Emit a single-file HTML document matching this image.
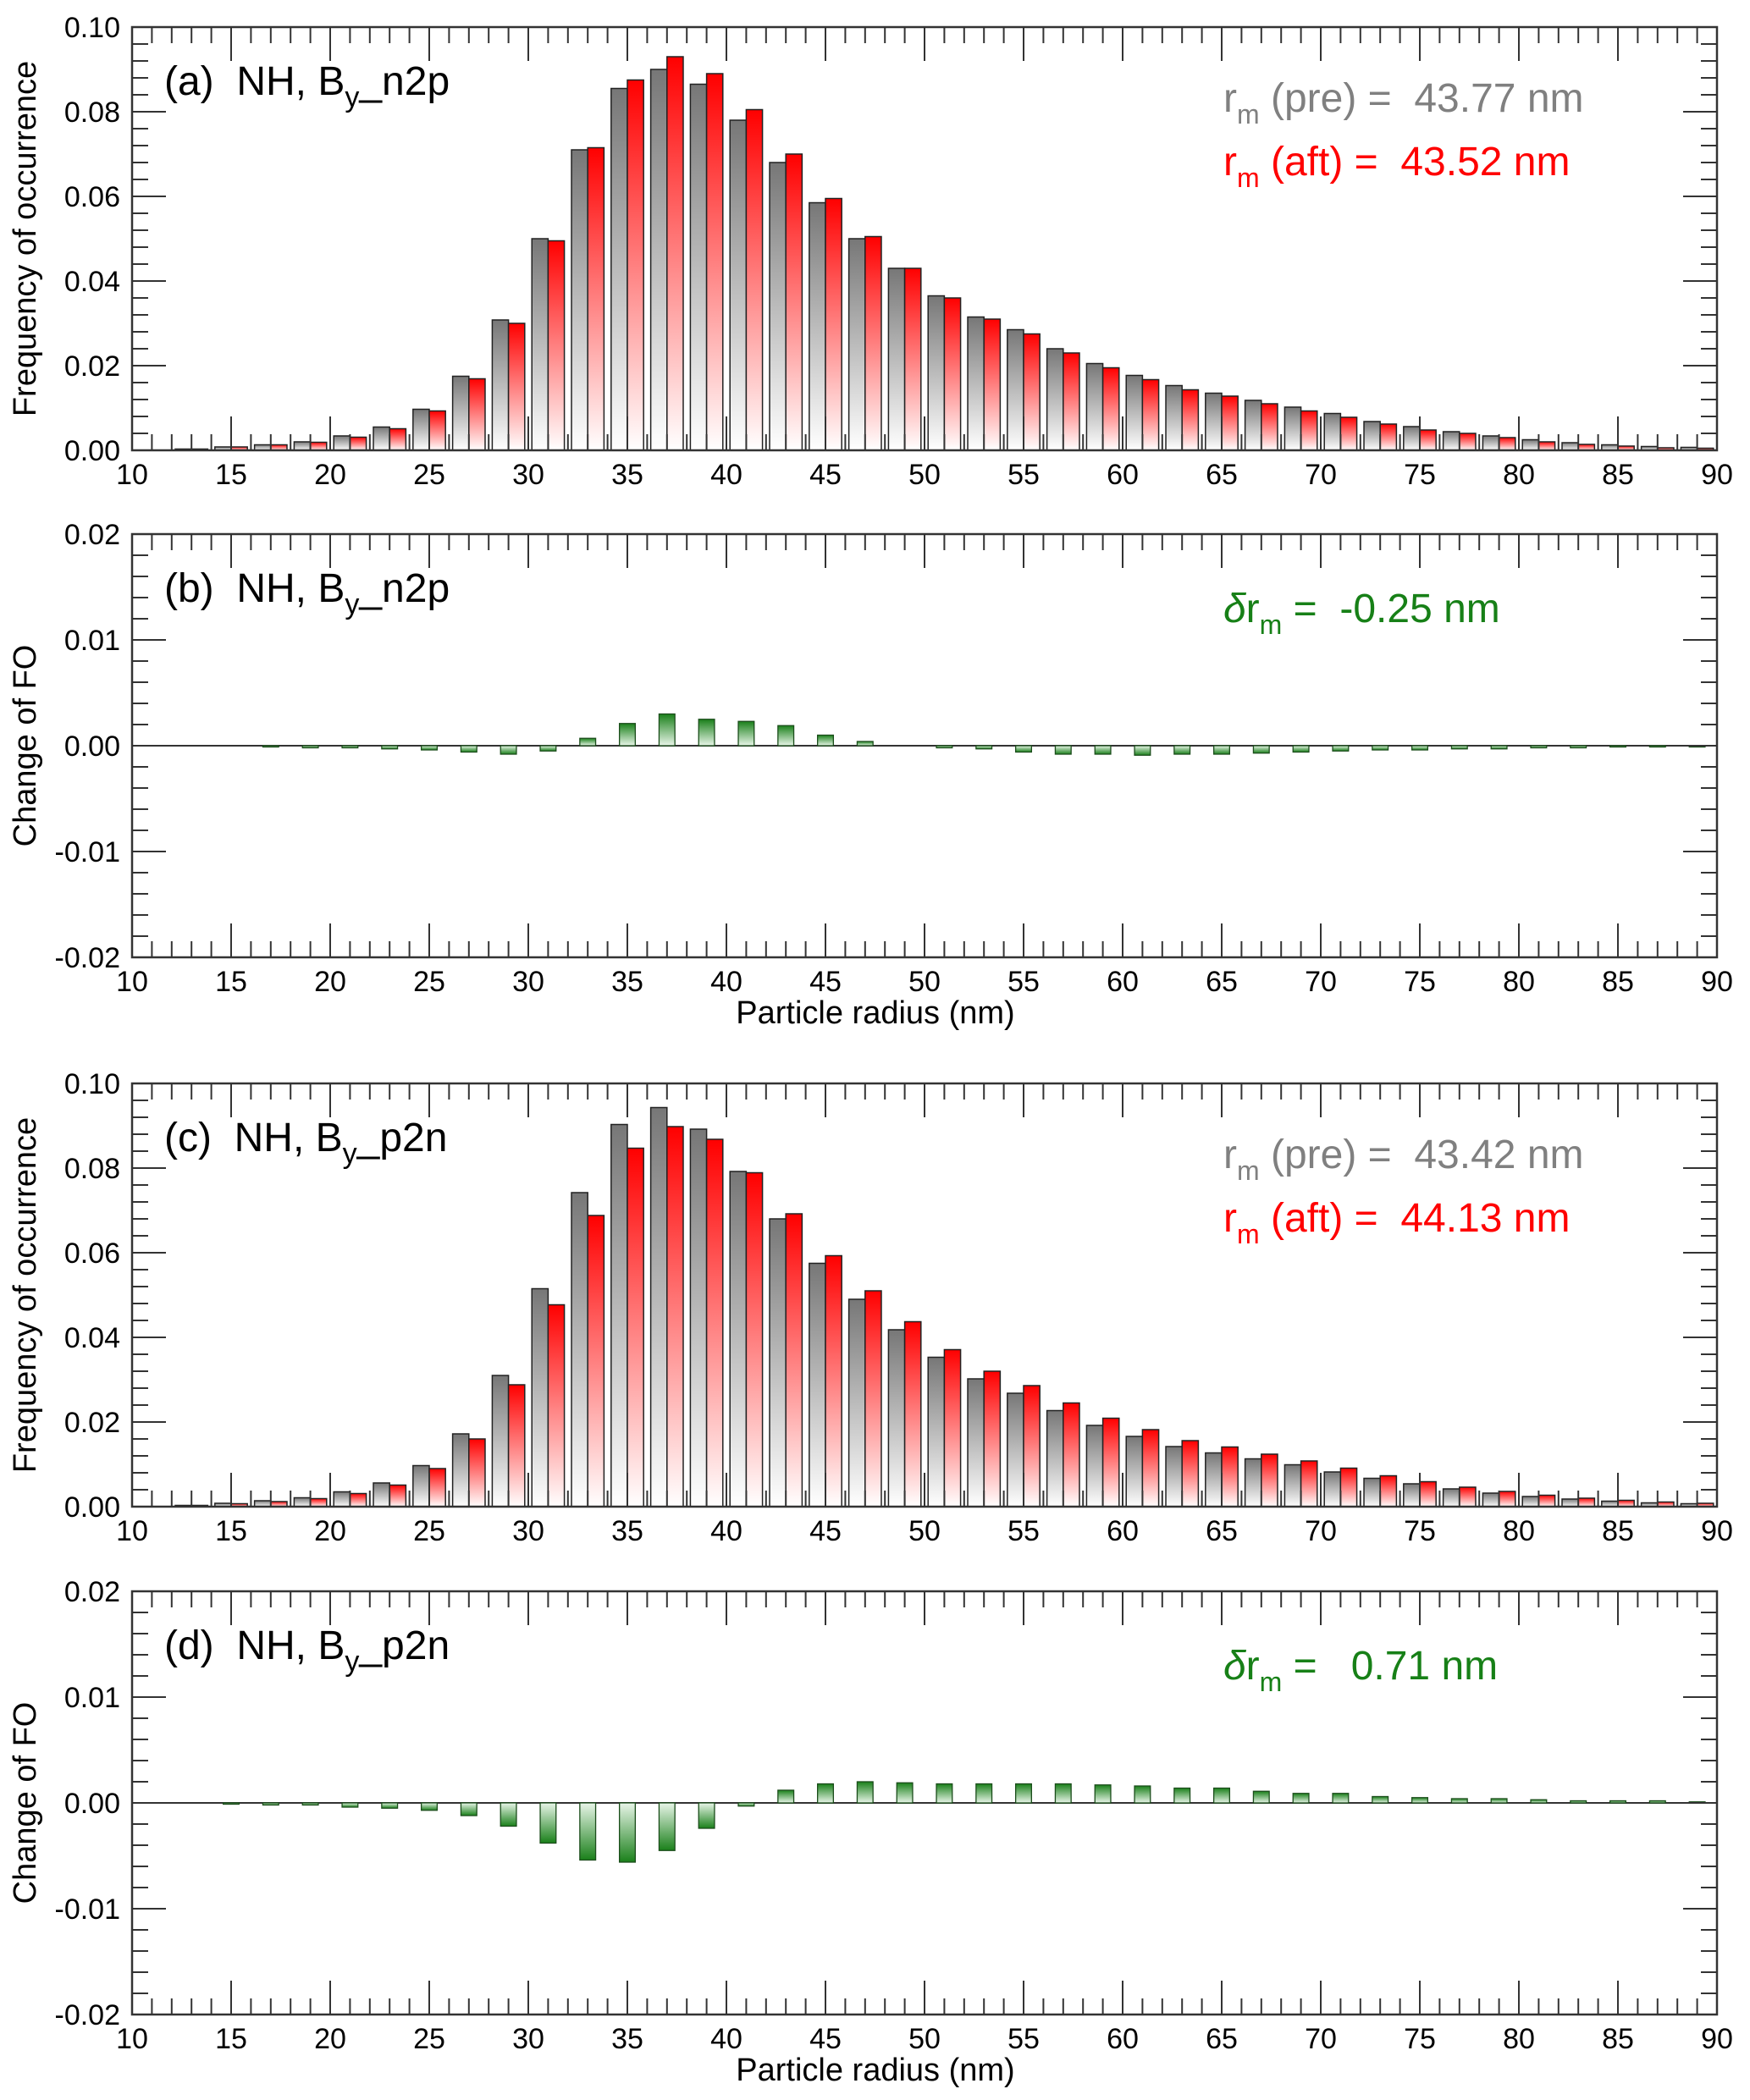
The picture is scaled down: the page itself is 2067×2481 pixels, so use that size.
<!DOCTYPE html>
<html><head><meta charset="utf-8"><style>
html,body{margin:0;padding:0;background:#fff}
svg{display:block;font-family:"Liberation Sans","DejaVu Sans",sans-serif}
</style></head><body>
<svg id="fig" width="2067" height="2481" viewBox="0 0 2067 2481" xmlns="http://www.w3.org/2000/svg">
<defs>
<linearGradient id="gGray" x1="0" y1="0" x2="0" y2="1"><stop offset="0" stop-color="#777"/><stop offset="1" stop-color="#fff"/></linearGradient>
<linearGradient id="gRed" x1="0" y1="0" x2="0" y2="1"><stop offset="0" stop-color="#f00"/><stop offset="1" stop-color="#fff"/></linearGradient>
<linearGradient id="gGreenUp" x1="0" y1="0" x2="0" y2="1"><stop offset="0" stop-color="#1a801a"/><stop offset="1" stop-color="#e8f5e8"/></linearGradient>
<linearGradient id="gGreenDn" x1="0" y1="1" x2="0" y2="0"><stop offset="0" stop-color="#1a801a"/><stop offset="1" stop-color="#e8f5e8"/></linearGradient>
</defs>
</svg>
<script>
const centers=[11,13,15,17,19,21,23,25,27,29,31,33,35,37,39,41,43,45,47,49,51,53,55,57,59,61,63,65,67,69,71,73,75,77,79,81,83,85,87,89];
const preA=[0,0.0003,0.0008,0.0013,0.002,0.0034,0.0055,0.0097,0.0175,0.0308,0.050,0.071,0.0855,0.090,0.0865,0.078,0.068,0.0585,0.050,0.043,0.0365,0.0315,0.0285,0.024,0.0205,0.0177,0.0153,0.0135,0.0118,0.0102,0.0087,0.0068,0.0056,0.0044,0.0034,0.0025,0.0018,0.0013,0.0009,0.0007];
const aftA=[0,0.0003,0.0008,0.0013,0.0019,0.0031,0.0051,0.0093,0.0169,0.0300,0.0495,0.0715,0.0875,0.093,0.089,0.0805,0.070,0.0595,0.0505,0.043,0.036,0.031,0.0275,0.023,0.0195,0.0167,0.0143,0.0128,0.011,0.0093,0.0078,0.0062,0.0048,0.0040,0.0030,0.0020,0.0014,0.0010,0.0006,0.0005];
const diffB=[0,0,0,-0.0001,-0.0002,-0.0002,-0.0003,-0.0004,-0.0006,-0.0008,-0.0005,0.0007,0.0021,0.003,0.0025,0.0023,0.0019,0.001,0.0004,0,-0.0002,-0.0003,-0.0006,-0.0008,-0.0008,-0.0009,-0.0008,-0.0008,-0.0007,-0.0006,-0.0005,-0.0004,-0.0004,-0.0003,-0.0003,-0.0002,-0.0002,-0.0001,-0.0001,-0.0001];
const preC=[0,0.0003,0.0008,0.0014,0.0021,0.0035,0.0056,0.0097,0.0172,0.031,0.0515,0.0742,0.0903,0.0943,0.0892,0.0792,0.0680,0.0575,0.0490,0.0418,0.0353,0.0302,0.0268,0.0227,0.0192,0.0166,0.0142,0.0127,0.0113,0.0099,0.0082,0.0067,0.0054,0.0042,0.0032,0.0024,0.0018,0.0013,0.0009,0.0007];
const aftC=[0,0.0003,0.0007,0.0012,0.0019,0.0031,0.0051,0.0090,0.0160,0.0288,0.0477,0.0688,0.0847,0.0898,0.0868,0.0789,0.0692,0.0593,0.0510,0.0437,0.0371,0.0320,0.0286,0.0245,0.0209,0.0182,0.0156,0.0141,0.0124,0.0108,0.0091,0.0073,0.0059,0.0046,0.0036,0.0027,0.0020,0.0015,0.0011,0.0008];
const diffD=[0,0,-0.0001,-0.0002,-0.0002,-0.0004,-0.0005,-0.0007,-0.0012,-0.0022,-0.0038,-0.0054,-0.0056,-0.0045,-0.0024,-0.0003,0.0012,0.0018,0.002,0.0019,0.0018,0.0018,0.0018,0.0018,0.0017,0.0016,0.0014,0.0014,0.0011,0.0009,0.0009,0.0006,0.0005,0.0004,0.0004,0.0003,0.0002,0.0002,0.0002,0.0001];
const xTicks=[10,15,20,25,30,35,40,45,50,55,60,65,70,75,80,85,90];
const yTicksFO=["0.00","0.02","0.04","0.06","0.08","0.10"];
const yTicksCh=["-0.02","-0.01","0.00","0.01","0.02"];

const svg=document.getElementById('fig');
const NS='http://www.w3.org/2000/svg';
const L=156,R=2028;
function mk(tag,attrs,parent){const e=document.createElementNS(NS,tag);for(const k in attrs)e.setAttribute(k,attrs[k]);(parent||svg).appendChild(e);return e;}
function X(v){return L+(v-10)/80*(R-L);}

function panel(top,ymin,ymax,yLabels,letter,suffix,ytitle,xtitle){
  const B=top+500;
  const g=mk('g',{});
  
  
  const Y=v=>B-(v-ymin)/(ymax-ymin)*500;
  return {g,Y,B,top,ymin,ymax,yLabels,letter,suffix,ytitle,xtitle};
}
function axes(p){
  const {g,Y,B,top}=p;
  for(let v=10;v<=90;v++){
    const len=(v%5===0)?40:19;
    const x=X(v);
    let t=mk('line',{x1:x,x2:x,y1:B,y2:B-len,stroke:'#333','stroke-width':2},g);
    
    
    t=mk('line',{x1:x,x2:x,y1:top,y2:top+len,stroke:'#333','stroke-width':2},g);
    
    
  }
  xTicks.forEach(v=>{
    const t=mk('text',{x:X(v),y:B+40,'font-size':34,'text-anchor':'middle',fill:'#000'},g);
    t.textContent=String(v);
    
    
  });
  const n=p.yLabels.length-1;
  const step=(p.ymax-p.ymin)/n;
  for(let i=0;i<=n*5;i++){
    const v=p.ymin+i*step/5;
    const len=(i%5===0)?40:19;
    const y=Y(v);
    let t=mk('line',{x1:L,x2:L+len,y1:y,y2:y,stroke:'#333','stroke-width':2},g);
    
    
    t=mk('line',{x1:R,x2:R-len,y1:y,y2:y,stroke:'#333','stroke-width':2},g);
    
    
  }
  p.yLabels.forEach((s,i)=>{
    const t=mk('text',{x:L-14,y:Y(p.ymin+i*step)+12,'font-size':34,'text-anchor':'end',fill:'#000'},g);
    t.textContent=s;
    
    
  });
  const fr=mk('rect',{x:L,y:top,width:R-L,height:500,fill:'none',stroke:'#333','stroke-width':2.5},g);
  
  
  const cy=top+250;
  const yt=mk('text',{x:0,y:0,'font-size':38,'text-anchor':'middle',fill:'#000',transform:`translate(42,${cy}) rotate(-90)`},g);
  yt.textContent=p.ytitle;
  
  
  if(p.xtitle){
    const xt=mk('text',{x:1034,y:B+78,'font-size':38,'text-anchor':'middle',fill:'#000'},g);
    xt.textContent='Particle radius (nm)';
    
    
  }
  const ttl=mk('text',{x:194,y:top+80,'font-size':48,fill:'#000'},g);
  
  
  ttl.innerHTML=`(${p.letter})&#160; NH, B<tspan font-size="34" dy="14">y</tspan><tspan dy="-14">_${p.suffix}</tspan>`;
}
function pairBars(p,pre,aft){
  const unit=(R-L)/80;
  centers.forEach((c,i)=>{
    const x=X(c);
    const hg=p.B-p.Y(pre[i]);
    if(hg>0){const r=mk('rect',{x:x-0.82*unit,y:p.Y(pre[i]),width:0.82*unit,height:hg,fill:'url(#gGray)',stroke:'#222','stroke-width':1.5},p.g);
      
      }
    const hr=p.B-p.Y(aft[i]);
    if(hr>0){const r=mk('rect',{x:x,y:p.Y(aft[i]),width:0.82*unit,height:hr,fill:'url(#gRed)',stroke:'#222','stroke-width':1.5},p.g);
      
      }
  });
}
function diffBars(p,d){
  const unit=(R-L)/80;
  const y0=p.Y(0);
  const zl=mk('line',{x1:L,x2:R,y1:y0,y2:y0,stroke:'#333','stroke-width':2},p.g);
  
  
  centers.forEach((c,i)=>{
    const v=d[i]; if(v===0) return;
    const y=p.Y(v);
    const top=Math.min(y,y0), h=Math.abs(y-y0);
    const r=mk('rect',{x:X(c)-0.4*unit,y:top,width:0.8*unit,height:Math.max(h,1.5),fill:v>0?'url(#gGreenUp)':'url(#gGreenDn)',stroke:'#1b4d1b','stroke-width':1.3},p.g);
    
    
  });
}
function annot(p,pre,aft){
  const t1=mk('text',{x:1445,y:p.top+100,'font-size':48,fill:'#808080'},p.g);
  t1.innerHTML=`r<tspan font-size="32" dy="14">m</tspan><tspan dy="-14"> (pre) = &#160;${pre} nm</tspan>`;
  
  
  const t2=mk('text',{x:1445,y:p.top+175,'font-size':48,fill:'#f00'},p.g);
  t2.innerHTML=`r<tspan font-size="32" dy="14">m</tspan><tspan dy="-14"> (aft) = &#160;${aft} nm</tspan>`;
  
  
}
function dannot(p,val){
  const t=mk('text',{x:1445,y:p.top+104,'font-size':48,fill:'#178017'},p.g);
  t.innerHTML=`<tspan font-style="italic">δ</tspan>r<tspan font-size="32" dy="14">m</tspan><tspan dy="-14"> = &#160;${val} nm</tspan>`;
  
  
}

const pa=panel(32,0,0.10,yTicksFO,'a','n2p','Frequency of occurrence',false);
pairBars(pa,preA,aftA); axes(pa); annot(pa,'43.77','43.52');
const pb=panel(631,-0.02,0.02,yTicksCh,'b','n2p','Change of FO',true);
diffBars(pb,diffB); axes(pb); dannot(pb,'-0.25');
const pc=panel(1280,0,0.10,yTicksFO,'c','p2n','Frequency of occurrence',false);
pairBars(pc,preC,aftC); axes(pc); annot(pc,'43.42','44.13');
const pd=panel(1880,-0.02,0.02,yTicksCh,'d','p2n','Change of FO',true);
diffBars(pd,diffD); axes(pd); dannot(pd,'&#160;0.71');
</script>
</body></html>
